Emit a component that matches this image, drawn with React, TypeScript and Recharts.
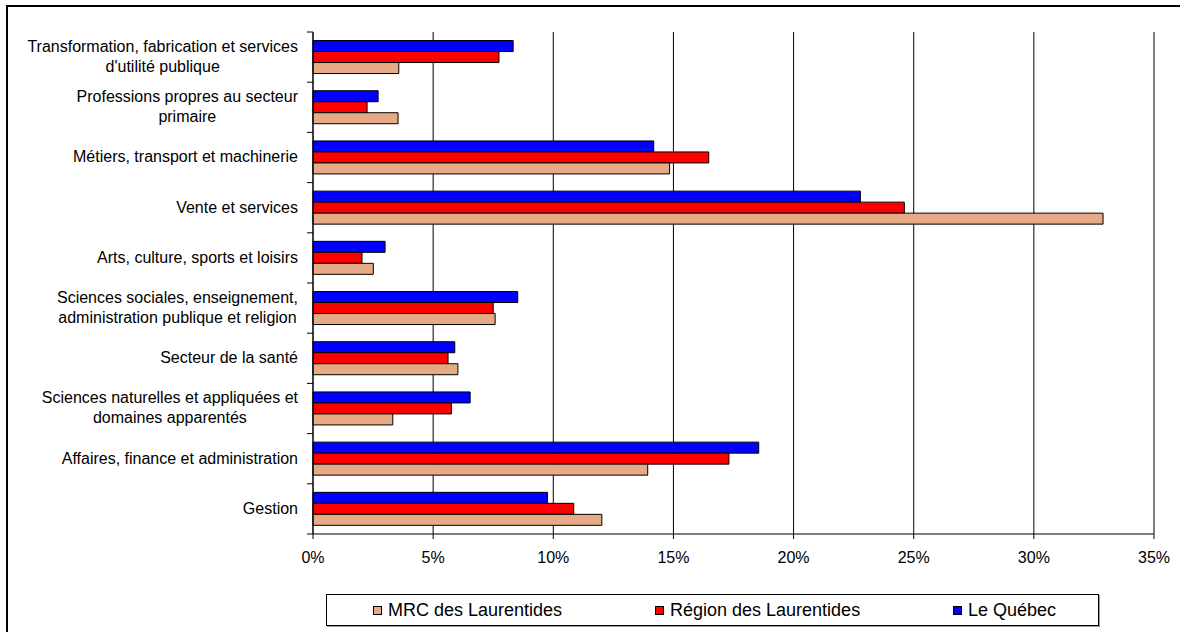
import React from 'react';
import {
  BarChart,
  Bar,
  XAxis,
  YAxis,
  CartesianGrid,
  Legend,
} from 'recharts';

// ---- data ----
const categories: string[] = [
  "Transformation, fabrication et services\nd'utilité publique",
  'Professions propres au secteur\nprimaire',
  'Métiers, transport et machinerie',
  'Vente et services',
  'Arts, culture, sports et loisirs',
  'Sciences sociales, enseignement,\nadministration publique et religion',
  'Secteur de la santé',
  'Sciences naturelles et appliquées et\ndomaines apparentés',
  'Affaires, finance et administration',
  'Gestion',
];

const mrcValues: number[] = [3.57, 3.54, 14.84, 32.88, 2.51, 7.58, 6.03, 3.32, 13.93, 12.02];
const regionValues: number[] = [7.74, 2.25, 16.47, 24.61, 2.04, 7.5, 5.62, 5.76, 17.31, 10.85];
const quebecValues: number[] = [8.33, 2.71, 14.18, 22.78, 3.0, 8.52, 5.9, 6.54, 18.55, 9.76];

const xTicks: number[] = [0, 5, 10, 15, 20, 25, 30, 35];

const seriesNames = {
  mrc: 'MRC des Laurentides',
  region: 'Région des Laurentides',
  quebec: 'Le Québec',
};

const colors = {
  mrc: '#E6AA87',
  region: '#FF0000',
  quebec: '#0000FF',
};

const data = categories.map((c, i) => ({
  category: c,
  mrc: mrcValues[i],
  region: regionValues[i],
  quebec: quebecValues[i],
}));

const FONT = "'Liberation Sans', Arial, sans-serif";
const TICK_MARGIN = 15;
const TICK_LEN = 6;

let ctx: CanvasRenderingContext2D | null = null;
function measure(text: string, size: number): number {
  if (!ctx && typeof document !== 'undefined') {
    ctx = document.createElement('canvas').getContext('2d');
  }
  if (!ctx) return text.length * size * 0.5;
  ctx.font = `${size}px ${FONT}`;
  return ctx.measureText(text).width;
}

const CategoryTick = (props: any) => {
  const { x, y, payload, index, visibleTicksCount, height } = props;
  const lines: string[] = String(payload.value).split('\n');
  const size = 16;
  const maxW = Math.max(...lines.map((l) => measure(l, size)));
  const cx = x - maxW / 2;
  const n = lines.length;
  const count = visibleTicksCount || categories.length;
  const half = typeof height === 'number' && height > 0 ? height / count / 2 : payload.offset || 0;
  const axisX = x + TICK_MARGIN;
  const isLast = index === count - 1;
  return (
    <g>
      <line x1={axisX - TICK_LEN} x2={axisX} y1={y - half} y2={y - half} stroke="#000" strokeWidth={1} />
      {isLast && (
        <line x1={axisX - TICK_LEN} x2={axisX} y1={y + half} y2={y + half} stroke="#000" strokeWidth={1} />
      )}
      {lines.map((l, i) => (
        <text
          key={i}
          x={cx}
          y={y + (i - (n - 1) / 2) * 20}
          dy="0.3em"
          textAnchor="middle"
          fontSize={size}
          fontFamily={FONT}
          fill="#000"
        >
          {l}
        </text>
      ))}
    </g>
  );
};

const legendOrder: Array<'mrc' | 'region' | 'quebec'> = ['mrc', 'region', 'quebec'];
const legendOffsets = [46, 328, 626];

const LegendContent = () => (
  <div
    style={{
      position: 'relative',
      width: 773,
      height: 32,
      border: '1px solid #000',
      boxSizing: 'border-box',
      background: '#fff',
      boxShadow: '1px 1px 0 #999',
      fontFamily: FONT,
      fontSize: 18,
      color: '#000',
    }}
  >
    {legendOrder.map((k, i) => (
      <div
        key={k}
        style={{
          position: 'absolute',
          left: legendOffsets[i],
          top: 0,
          height: 30,
          display: 'flex',
          alignItems: 'center',
          whiteSpace: 'nowrap',
        }}
      >
        <span
          style={{
            display: 'inline-block',
            width: 9,
            height: 9,
            boxSizing: 'border-box',
            border: '1.5px solid #000',
            background: colors[k],
            marginRight: 6,
          }}
        />
        <span>{seriesNames[k]}</span>
      </div>
    ))}
  </div>
);

export default function App() {
  return (
    <div
      style={{
        position: 'absolute',
        left: 0,
        top: 0,
        width: 1180,
        height: 632,
        background: '#fff',
        overflow: 'hidden',
      }}
    >
      <div
        style={{
          position: 'absolute',
          left: 6,
          top: 5,
          width: 1200,
          height: 700,
          borderTop: '2px solid #000',
          borderLeft: '2px solid #000',
        }}
      />
      <div style={{ position: 'absolute', left: 0, top: 0 }}>
        <BarChart
          width={1180}
          height={632}
          data={data}
          layout="vertical"
          margin={{ top: 32, right: 26, left: 0, bottom: 68 }}
          barCategoryGap="17%"
          barGap={0}
        >
          <CartesianGrid horizontal={false} vertical={true} stroke="#000" strokeWidth={1} />
          <XAxis
            type="number"
            domain={[0, 35]}
            ticks={xTicks}
            interval={0}
            tickFormatter={(v: number) => `${v}%`}
            axisLine={{ stroke: '#000' }}
            tickLine={{ stroke: '#000' }}
            tickSize={5}
            tickMargin={13}
            height={30}
            tick={{ fontSize: 16, fontFamily: FONT, fill: '#000' }}
          />
          <XAxis
            xAxisId="top"
            orientation="top"
            type="number"
            domain={[0, 35]}
            height={0}
            tick={false}
            tickLine={false}
            axisLine={{ stroke: '#A0A0A0', strokeWidth: 2 }}
          />
          <YAxis
            type="category"
            dataKey="category"
            width={313}
            interval={0}
            axisLine={{ stroke: '#000' }}
            tickLine={false}
            tickSize={0}
            tickMargin={TICK_MARGIN}
            tick={<CategoryTick />}
          />
          <YAxis
            yAxisId="right"
            orientation="right"
            type="number"
            domain={[0, 10]}
            width={0}
            tick={false}
            tickLine={false}
            axisLine={{ stroke: '#A0A0A0', strokeWidth: 2 }}
            allowDataOverflow
          />
          <Legend
            layout="horizontal"
            verticalAlign="middle"
            align="center"
            content={<LegendContent />}
            wrapperStyle={{ position: 'absolute', left: 326, top: 594, width: 773, height: 32, bottom: 'auto', right: 'auto' }}
          />
          <Bar dataKey="quebec" name={seriesNames.quebec} fill={colors.quebec} stroke="#000" strokeWidth={1} isAnimationActive={false} />
          <Bar dataKey="region" name={seriesNames.region} fill={colors.region} stroke="#000" strokeWidth={1} isAnimationActive={false} />
          <Bar dataKey="mrc" name={seriesNames.mrc} fill={colors.mrc} stroke="#000" strokeWidth={1} isAnimationActive={false} />
        </BarChart>
      </div>
    </div>
  );
}
